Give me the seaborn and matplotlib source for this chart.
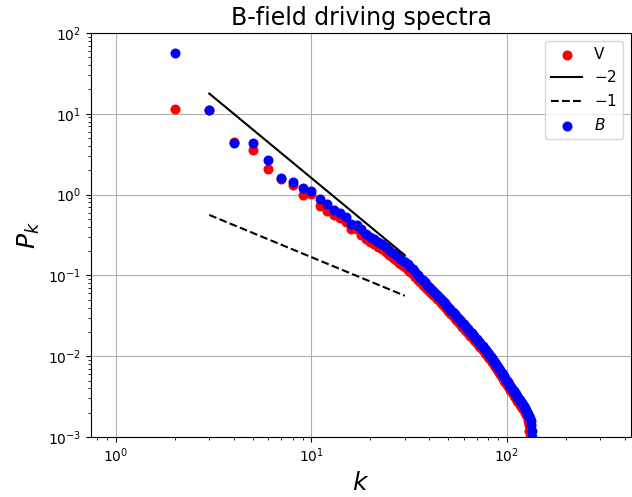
import matplotlib
matplotlib.use('Agg')
import matplotlib.pyplot as plt
import seaborn as sns

# wavenumbers (integer shells)
k_v = list(range(2, 135))
k_b = list(range(2, 139))

# velocity spectrum
p_v = [11.4, 11.0, 4.5, 3.6, 2.05, 1.55, 1.32, 0.98, 1.03, 0.72,
       0.63, 0.56, 0.52, 0.46, 0.38, 0.37, 0.32, 0.285, 0.26, 0.245,
       0.225, 0.213, 0.195, 0.18, 0.166, 0.154, 0.144, 0.135, 0.127, 0.118,
       0.11, 0.103, 0.095, 0.088, 0.082, 0.077, 0.072, 0.068, 0.064, 0.061,
       0.058, 0.055, 0.0515, 0.049, 0.046, 0.0435, 0.041, 0.039, 0.0367, 0.0347,
       0.033, 0.0313, 0.0298, 0.0283, 0.0269, 0.0256, 0.0245, 0.0233, 0.0223, 0.0213,
       0.0204, 0.0195, 0.0187, 0.018, 0.0173, 0.0166, 0.0159, 0.0153, 0.0147, 0.014,
       0.0135, 0.013, 0.0125, 0.012, 0.0115, 0.0111, 0.0107, 0.0103, 0.0099, 0.0095,
       0.0092, 0.0089, 0.0085, 0.0082, 0.0078, 0.0075, 0.0071, 0.0069, 0.0066, 0.0063,
       0.0061, 0.0058, 0.0056, 0.0054, 0.0052, 0.005, 0.0048, 0.0046, 0.0044, 0.0043,
       0.0041, 0.004, 0.0038, 0.0037, 0.0036, 0.0035, 0.0033, 0.0032, 0.0031, 0.003,
       0.0029, 0.0028, 0.0027, 0.0027, 0.0026, 0.0025, 0.0024, 0.0024, 0.0023, 0.0022,
       0.0022, 0.0021, 0.002, 0.0019, 0.0018, 0.0018, 0.0016, 0.0014, 0.0012, 0.001,
       0.0008, 0.0006, 0.0004]

# magnetic spectrum
p_b = [57.0, 11.3, 4.3, 4.4, 2.7, 1.6, 1.45, 1.22, 1.12, 0.88,
       0.77, 0.64, 0.59, 0.53, 0.43, 0.42, 0.37, 0.33, 0.30, 0.28,
       0.26, 0.245, 0.225, 0.205, 0.19, 0.177, 0.165, 0.155, 0.146, 0.137,
       0.128, 0.119, 0.11, 0.101, 0.094, 0.088, 0.082, 0.077, 0.072, 0.068,
       0.0645, 0.061, 0.0575, 0.0545, 0.0514, 0.0484, 0.0457, 0.0432, 0.0408, 0.0386,
       0.0366, 0.0348, 0.0331, 0.0314, 0.0299, 0.0285, 0.0272, 0.0259, 0.0248, 0.0237,
       0.0227, 0.0217, 0.0208, 0.020, 0.0192, 0.0184, 0.0177, 0.017, 0.0163, 0.0156,
       0.015, 0.0145, 0.0139, 0.0133, 0.0128, 0.0123, 0.0119, 0.0114, 0.011, 0.0106,
       0.0102, 0.0099, 0.00946, 0.00906, 0.00867, 0.0083, 0.00794, 0.00762, 0.00731, 0.00701,
       0.00673, 0.00646, 0.00621, 0.00597, 0.00574, 0.00552, 0.00531, 0.00512, 0.00493, 0.00475,
       0.00458, 0.00443, 0.00427, 0.00412, 0.00398, 0.00385, 0.00372, 0.0036, 0.00348, 0.00337,
       0.00326, 0.00315, 0.00305, 0.00296, 0.00287, 0.00279, 0.0027, 0.00262, 0.00255, 0.00247,
       0.0024, 0.00231, 0.00222, 0.00213, 0.00206, 0.00198, 0.0019, 0.00183, 0.00177, 0.0017,
       0.0016, 0.0014, 0.0012, 0.001, 0.00085, 0.0006, 0.0004]

# reference power laws (end points)
k_ref = [3, 30]
p_m2 = [17.8, 0.178]
p_m1 = [0.56, 0.056]

fig, ax = plt.subplots(figsize=(6.32, 4.97), dpi=100)
fig.subplots_adjust(left=91/632, right=631/632, top=1-33/497, bottom=1-437/497)

sns.scatterplot(x=k_v, y=p_v, color='red', s=52, linewidth=0, label='V', ax=ax)
ax.plot(k_ref, p_m2, color='black', ls='-', lw=1.5, label='$-2$')
ax.plot(k_ref, p_m1, color='black', ls='--', lw=1.5, label='$-1$')
sns.scatterplot(x=k_b, y=p_b, color='blue', s=52, linewidth=0, label='$B$', ax=ax)

ax.set_xscale('log')
ax.set_yscale('log')
ax.set_xlim(0.745, 431)
ax.set_ylim(1e-3, 1e2)
ax.grid(True, which='major', color='#b0b0b0', lw=0.8)
ax.set_axisbelow(True)

ax.set_title('B-field driving spectra', fontsize=17)
ax.set_xlabel('$k$', fontsize=18)
ax.set_ylabel('$P_k$', fontsize=18)
ax.legend(loc='upper right', fontsize=11)

fig.savefig('out.png', dpi=100)
